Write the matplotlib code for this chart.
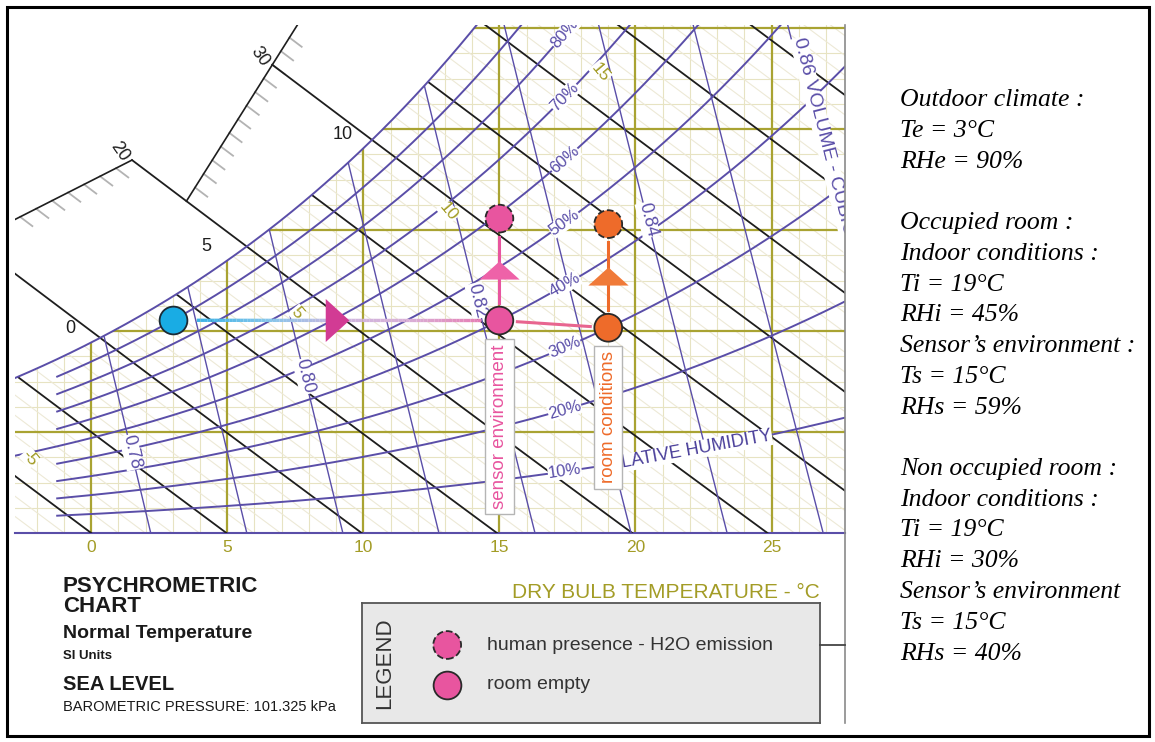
import numpy as np
import matplotlib
matplotlib.use("Agg")
import matplotlib.pyplot as plt
from matplotlib.patches import Polygon, Rectangle
from matplotlib.lines import Line2D
from matplotlib.collections import LineCollection
from matplotlib.colors import LinearSegmentedColormap

# psychrometric chart content
P_ATM = 101.325  # kPa, sea level
rh_levels = [10, 20, 30, 40, 50, 60, 70, 80, 90, 100]
rh_labelled = [10, 20, 30, 40, 50, 60, 70, 80]
rh_from_edge = [50, 100]
volume_levels = [0.78, 0.79, 0.80, 0.81, 0.82, 0.83, 0.84, 0.85, 0.86]
volume_labelled = [0.78, 0.80, 0.82, 0.84]
volume_label_w = [1.6, 3.1, 4.6, 6.2]
enthalpy_levels = list(range(0, 60, 5))
wetbulb_sat_labels = [0, 5, 10]
wetbulb_mid_labels = [-5, 5, 10, 15]
db_ticks = [0, 5, 10, 15, 20, 25]
# enthalpy scale pieces: (h_start, h_end, t_start, t_end)
hscale = [(12, 20, -3.2, 1.5), (20, 33, 3.5, 7.6)]

# measured states
outdoor_t, outdoor_rh = 3, 90
occ_room_t, occ_room_rh = 19, 45
occ_sensor_t, occ_sensor_rh = 15, 59
empty_room_t, empty_room_rh = 19, 30
empty_sensor_t, empty_sensor_rh = 15, 40

PURPLE = "#5a4ea8"
BLACK = "#1e1e1e"
OLIVE = "#a9a332"
OLIVE_TXT = "#a39c26"
GRID = "#e7e3c2"
FAINT = "#ede9d6"
BLUE = "#19ace4"
PINK = "#e8559f"
ORANGE = "#ee6b2a"
MAGENTA = "#d23b94"

T_MIN, T_MAX, W_MAX = -2.8, 27.7, 10.06
RH_START = -1.25
RH_LABEL_T = 17.4


def p_sat(t):
    return 0.61094 * np.exp(17.625 * t / (t + 243.04))


def hum_ratio(t, rh):
    pv = rh / 100 * p_sat(t)
    return 622 * pv / (P_ATM - pv)


def enthalpy(t, w):
    return 1.006 * t + w / 1000 * (2501 + 1.86 * t)


def w_on_enthalpy(h, t):
    return 1000 * (h - 1.006 * t) / (2501 + 1.86 * t)


def t_on_volume(v, w):
    return v * P_ATM / (0.287042 * (1 + 1.6078 * w / 1000)) - 273.15


W, H = 1155, 742
fig = plt.figure(figsize=(W / 100, H / 100), dpi=100)
plt.rcParams['font.family'] = ['Liberation Sans', 'DejaVu Sans']


def fx(x):
    return x / W


def fy(y):
    return 1 - y / H


ax = fig.add_axes([fx(15), fy(533), fx(845) - fx(15), fy(25) - fy(533)])
ax.set_xlim(T_MIN, T_MAX)
ax.set_ylim(0, W_MAX)


def screen_angle(p, q):
    a, b = ax.transData.transform([p, q])
    return np.degrees(np.arctan2(b[1] - a[1], b[0] - a[0]))


def shrink(p, q, gap_a, gap_b):
    a, b = ax.transData.transform([p, q])
    d = (b - a) / np.hypot(*(b - a))
    return ax.transData.inverted().transform([a + d * gap_a, b - d * gap_b])


# area under the saturation curve, used to clip the grid
tg = np.linspace(T_MIN, T_MAX, 400)
verts = np.column_stack([tg, np.minimum(hum_ratio(tg, 100), W_MAX)])
verts = np.vstack([verts, [[T_MAX, 0], [T_MIN, 0]]])
region = Polygon(verts, closed=True, facecolor='none', edgecolor='none')
ax.add_patch(region)

# dry bulb and humidity ratio grid
for t in range(-2, 28):
    major = t % 5 == 0
    ln, = ax.plot([t, t], [0, W_MAX], color=OLIVE if major else GRID,
                  lw=1.6 if major else 0.8, zorder=2 if major else 1)
    ln.set_clip_path(region)
for w in np.arange(0.5, 10.01, 0.5):
    major = w % 2 == 0
    ln, = ax.plot([T_MIN, T_MAX], [w, w], color=OLIVE if major else GRID,
                  lw=1.6 if major else 0.8, zorder=2 if major else 1)
    ln.set_clip_path(region)

# minor enthalpy lines
tt = np.linspace(T_MIN, T_MAX, 50)
for h in range(-2, 56):
    ln, = ax.plot(tt, w_on_enthalpy(h, tt), color=FAINT, lw=0.8, zorder=1)
    ln.set_clip_path(region)

# enthalpy scale
for h0, h1, t0, t1 in hscale:
    ax.plot([t0, t1], [w_on_enthalpy(h0, t0), w_on_enthalpy(h1, t1)],
            color=BLACK, lw=1.2, zorder=4)
    for h in range(h0 + 1, h1):
        t = t0 + (h - h0) / (h1 - h0) * (t1 - t0)
        ax.plot([t, t + 0.45], [w_on_enthalpy(h, t), w_on_enthalpy(h, t + 0.45)],
                color="#b3b3b3", lw=1.3, zorder=3)
    for h in range(h0, h1 + 1):
        if h % 10 == 0 and h != h0:
            t = t0 + (h - h0) / (h1 - h0) * (t1 - t0)
            ax.annotate(str(h), (t, w_on_enthalpy(h, t)), xytext=(-9, 6),
                        textcoords='offset points', ha='center', va='center',
                        rotation=-55, fontsize=13, color=BLACK, zorder=6)

# main enthalpy lines
for h in enthalpy_levels:
    t_start = T_MIN
    if h % 10 == 0:
        for h0, h1, t0, t1 in hscale:
            if h0 <= h <= h1:
                t_start = t0 + (h - h0) / (h1 - h0) * (t1 - t0)
                break
    tt = np.linspace(t_start, h / 1.006, 60)
    ln, = ax.plot(tt, w_on_enthalpy(h, tt), color=BLACK, lw=1.3, zorder=4)
    if h % 10:
        ln.set_clip_path(region)

# wet bulb labels on the saturation curve
for twb in wetbulb_sat_labels:
    ax.annotate(str(twb), (twb, hum_ratio(twb, 100)), xytext=(-15, 10),
                textcoords='offset points', ha='center', va='center',
                fontsize=13, color=BLACK, zorder=6)

# wet bulb labels inside the chart
tt = np.linspace(-10, 30, 4001)
for twb in wetbulb_mid_labels:
    h = enthalpy(twb, hum_ratio(twb, 100))
    t_lab = tt[np.argmin(np.abs(hum_ratio(tt, 68) - w_on_enthalpy(h, tt)))]
    t_lab = max(t_lab, T_MIN + 0.55)
    ax.text(t_lab, w_on_enthalpy(h, t_lab), str(twb), rotation=-50,
            ha='center', va='center', fontsize=12.5, color=OLIVE_TXT,
            bbox=dict(fc='white', ec='none', pad=0.3), zorder=6, clip_on=True)

# specific volume lines
ww = np.linspace(0, W_MAX, 50)
for v in volume_levels:
    ln, = ax.plot(t_on_volume(v, ww), ww, color=PURPLE, lw=1.0, zorder=5)
    ln.set_clip_path(region)
for v, w in zip(volume_labelled, volume_label_w):
    ang = screen_angle((t_on_volume(v, w + 0.1), w + 0.1), (t_on_volume(v, w - 0.1), w - 0.1))
    ax.text(t_on_volume(v, w), w, f"{v:.2f}", rotation=ang, rotation_mode='anchor',
            ha='center', va='center', fontsize=13, color=PURPLE,
            bbox=dict(fc='white', ec='none', pad=0.3), zorder=6)
v_top = volume_levels[-1]
w_top = 9.8
ang = screen_angle((t_on_volume(v_top, w_top), w_top), (t_on_volume(v_top, w_top - 0.2), w_top - 0.2))
ax.text(t_on_volume(v_top, w_top) + 0.25, w_top, f"{v_top:.2f} VOLUME - CUBIC METER PER KG DRY AIR",
        rotation=ang, rotation_mode='anchor', ha='left', va='center', fontsize=14,
        color=PURPLE, bbox=dict(fc='white', ec='none', pad=0.3), zorder=6, clip_on=True)

# relative humidity curves
for rh in rh_levels:
    t0 = T_MIN if rh in rh_from_edge else RH_START
    tt = np.linspace(t0, T_MAX, 300)
    ax.plot(tt, hum_ratio(tt, rh), color=PURPLE, lw=1.4, zorder=5)
for rh in rh_labelled:
    w = hum_ratio(RH_LABEL_T, rh)
    ang = screen_angle((RH_LABEL_T - 0.3, hum_ratio(RH_LABEL_T - 0.3, rh)),
                       (RH_LABEL_T + 0.3, hum_ratio(RH_LABEL_T + 0.3, rh)))
    ax.text(RH_LABEL_T, w, f"{rh}%", rotation=ang, rotation_mode='anchor',
            ha='center', va='center', fontsize=12, color=PURPLE,
            bbox=dict(fc='white', ec='none', pad=0.3), zorder=6, clip_on=True)
t_txt = 21.8
ang = screen_angle((t_txt - 0.3, hum_ratio(t_txt - 0.3, 10)), (t_txt + 0.3, hum_ratio(t_txt + 0.3, 10)))
ax.text(t_txt, hum_ratio(t_txt, 10), "RELATIVE HUMIDITY", rotation=ang, rotation_mode='anchor',
        ha='center', va='center', fontsize=13, color="#4a3f9a",
        bbox=dict(fc='white', ec='none', pad=0.2), zorder=6)

# states and transformations
w_out = hum_ratio(outdoor_t, outdoor_rh)
w_es = hum_ratio(empty_sensor_t, empty_sensor_rh)
w_er = hum_ratio(empty_room_t, empty_room_rh)
w_os = hum_ratio(occ_sensor_t, occ_sensor_rh)
w_or = hum_ratio(occ_room_t, occ_room_rh)

# outdoor air brought to the sensor temperature
p, q = shrink((outdoor_t, w_out), (empty_sensor_t, w_es), 24, 18)
xs = np.linspace(p[0], q[0], 80)
ys = np.linspace(p[1], q[1], 80)
segs = np.stack([np.column_stack([xs[:-1], ys[:-1]]), np.column_stack([xs[1:], ys[1:]])], axis=1)
air_cmap = LinearSegmentedColormap.from_list("air", ["#3cb2e6", "#86c6ea", "#cdb6df", "#d9afd6", "#e57fb5"])
ax.add_collection(LineCollection(segs, colors=air_cmap(np.linspace(0, 1, len(segs))), lw=2.4, zorder=8))
right_tri = [(-0.5, -1), (0.6, 0), (-0.5, 1)]
ax.plot((outdoor_t + empty_sensor_t) / 2, w_out, marker=right_tri, ms=31,
        color=MAGENTA, mec='none', zorder=9)

# room to sensor
p, q = shrink((empty_room_t, w_er), (empty_sensor_t, w_es), 18, 18)
ax.plot([p[0], q[0]], [p[1], q[1]], color="#e8658f", lw=2.2, zorder=8)

# moisture added by occupants
up_tri = [(-1, -0.45), (1, -0.45), (0, 0.45)]
for t, w0, w1, col, tri in [(empty_sensor_t, w_es, w_os, PINK, "#ee62a8"),
                            (empty_room_t, w_er, w_or, ORANGE, "#f07a38")]:
    p, q = shrink((t, w0), (t, w1), 18, 18)
    ax.plot([p[0], q[0]], [p[1], q[1]], color=col, lw=2.2, zorder=8)
    ax.plot(t, (w0 + w1) / 2, marker=up_tri, ms=29, color=tri, mec='none', zorder=9)

ax.scatter([outdoor_t], [w_out], s=400, c=BLUE, edgecolors="#1b2a35", linewidths=1.3, zorder=10)
ax.scatter([empty_sensor_t, empty_room_t], [w_es, w_er], s=400, c=[PINK, ORANGE],
           edgecolors="#2a2a2a", linewidths=1.3, zorder=10)
ax.scatter([occ_sensor_t, occ_room_t], [w_os, w_or], s=400, c=[PINK, ORANGE],
           edgecolors="#2a2a2a", linewidths=1.3, linestyles='--', zorder=10)

for t, w, label, col in [(empty_sensor_t, w_es, "sensor environment", PINK),
                         (empty_room_t, w_er, "room conditions", ORANGE)]:
    ax.annotate(label, (t, w), xytext=(0, -17), textcoords='offset points', rotation=90,
                ha='center', va='top', fontsize=13.5, color=col, zorder=7,
                bbox=dict(boxstyle='square,pad=0.3', fc='white', ec='#b5b5b5', lw=1))

# axes dressing
ax.set_xticks(db_ticks)
ax.tick_params(axis='x', length=0, pad=5, labelcolor=OLIVE_TXT, labelsize=12.5)
ax.set_yticks([])
for side in ['top', 'left', 'right']:
    ax.spines[side].set_visible(False)
ax.spines['bottom'].set_color(PURPLE)
ax.spines['bottom'].set_linewidth(1.5)

fig.add_artist(Line2D([fx(845), fx(845)], [fy(25), fy(723)], color='#8a8a8a', lw=1.2))
fig.add_artist(Line2D([fx(820), fx(845)], [fy(645), fy(645)], color='#444444', lw=1.3))
fig.text(fx(820), fy(592), "DRY BULB TEMPERATURE - °C", ha='right', va='center',
         fontsize=15, color=OLIVE_TXT)

# title block
fig.text(fx(63), fy(587), "PSYCHROMETRIC", fontsize=16, weight='bold', va='center', color='#1a1a1a')
fig.text(fx(63), fy(607), "CHART", fontsize=16, weight='bold', va='center', color='#1a1a1a')
fig.text(fx(63), fy(634), "Normal Temperature", fontsize=14, weight='bold', va='center', color='#1a1a1a')
fig.text(fx(63), fy(656), "SI Units", fontsize=9.5, weight='bold', va='center', color='#1a1a1a')
fig.text(fx(63), fy(684), "SEA LEVEL", fontsize=14.5, weight='bold', va='center', color='#1a1a1a')
fig.text(fx(63), fy(707), "BAROMETRIC PRESSURE: 101.325 kPa", fontsize=10.5, va='center', color='#1a1a1a')

# legend panel
lax = fig.add_axes([fx(362), fy(723), fx(820) - fx(362), fy(603) - fy(723)])
lax.set_xlim(0, 1)
lax.set_ylim(0, 1)
lax.set_facecolor('#e8e8e8')
lax.set_xticks([])
lax.set_yticks([])
for s in lax.spines.values():
    s.set_color('#555555')
    s.set_linewidth(1.3)
lax.text(0.05, 0.5, "LEGEND", rotation=90, ha='center', va='center', fontsize=16, color='#333333')
lax.scatter([0.186], [0.65], s=400, c=PINK, edgecolors='#2a2a2a', linewidths=1.3, linestyles='--')
lax.scatter([0.186], [0.317], s=400, c=PINK, edgecolors='#2a2a2a', linewidths=1.3)
lax.text(0.273, 0.65, "human presence - H2O emission", va='center', fontsize=14, color='#333333')
lax.text(0.273, 0.317, "room empty", va='center', fontsize=14, color='#333333')

# notes on the right
notes = [
    "Outdoor climate :", f"Te = {outdoor_t}°C", f"RHe = {outdoor_rh}%", "",
    "Occupied room :", "Indoor conditions :", f"Ti = {occ_room_t}°C", f"RHi = {occ_room_rh}%",
    "Sensor’s environment :", f"Ts = {occ_sensor_t}°C", f"RHs = {occ_sensor_rh}%", "",
    "Non occupied room :", "Indoor conditions :", f"Ti = {empty_room_t}°C", f"RHi = {empty_room_rh}%",
    "Sensor’s environment", f"Ts = {empty_sensor_t}°C", f"RHs = {empty_sensor_rh}%",
]
for i, line in enumerate(notes):
    fig.text(fx(900), fy(100 + i * 30.75), line, family='Liberation Serif', style='italic',
             fontsize=18.5, va='center', color='black')

fig.add_artist(Rectangle((fx(7), fy(736)), fx(1149) - fx(7), fy(7) - fy(736), fill=False,
                         ec='black', lw=2.2, transform=fig.transFigure))

fig.savefig("out.png", dpi=100)
